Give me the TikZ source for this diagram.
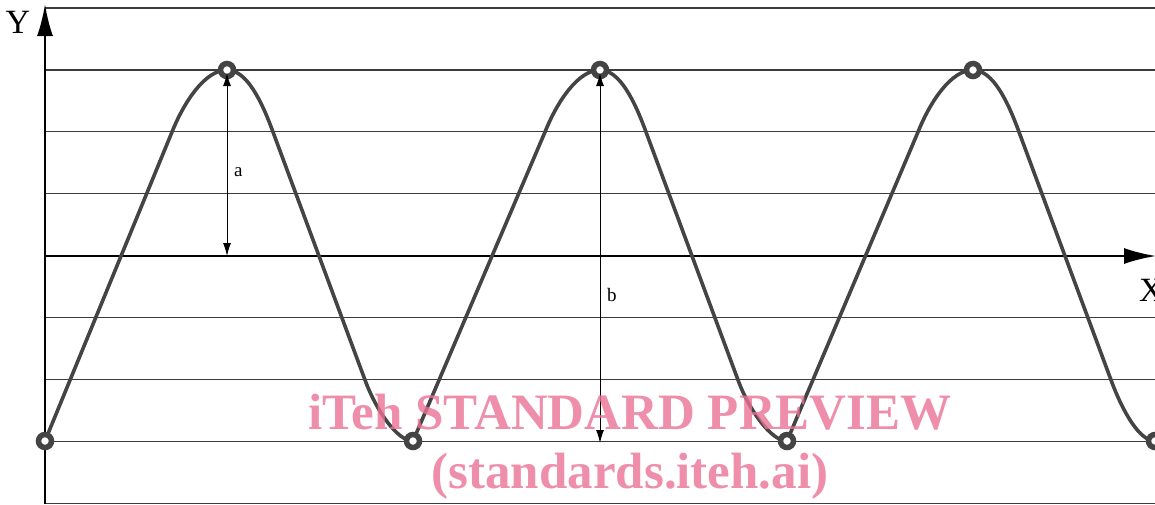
\documentclass[tikz,border=0pt]{standalone}
\usepackage{fontspec}
\setmainfont{Liberation Serif}
\usetikzlibrary{arrows.meta}
\definecolor{curvegray}{RGB}{68,68,68}
\definecolor{gridgray}{RGB}{60,60,60}
\definecolor{wmpink}{RGB}{234,114,149}
\tikzset{
  gridline/.style={draw=gridgray,line width=1.2pt},
  axisline/.style={draw=black,line width=2.4pt,-{Latex[length=32pt,width=16pt]}},
  curveline/.style={draw=curvegray,line width=3.6pt,line cap=round,line join=round},
  extremum/.style={circle,draw=curvegray,fill=white,line width=5.5pt,minimum size=13pt,inner sep=0pt},
  dimline/.style={draw=black,line width=1pt,{Latex[length=13pt,width=8pt]}-{Latex[length=13pt,width=8pt]}},
  dimlabel/.style={font=\fontsize{19}{19}\selectfont,anchor=west,inner sep=0pt},
  axislabel/.style={font=\fontsize{34}{34}\selectfont,inner sep=0pt},
  watermark/.style={font=\fontsize{51}{51}\selectfont\bfseries,text=wmpink,opacity=0.8,anchor=base,inner sep=0pt}
}
\begin{document}
\begin{tikzpicture}[x=1pt,y=-1pt]
\useasboundingbox (0,0) rectangle (1155,504);
% grid lines
\foreach \k in {0,1,2,3,5,6,7,8} {
  \draw[gridline] (45,{8+61.9*\k}) -- (1155,{8+61.9*\k});
}
% axes
\coordinate (o) at (45,504);
\coordinate (ytip) at (45,4);
\coordinate (xo) at (45,256);
\coordinate (xtip) at (1156,256);
\draw[axisline] (o) -- (ytip);
\draw[axisline] (xo) -- (xtip);
\node[axislabel] (ylab) at (18,22) {Y};
\node[axislabel,anchor=west] (xlab) at (1139,290) {X};
% curve: one period per peak (peak x / left trough offset / right trough offset)
\foreach \p/\l/\r in {227/-182/186, 600/-187/187, 973/-186/182} {
  \draw[curveline] ({\p+\l},441) -- ({\p-55},132)
    .. controls ({\p-43},102) and ({\p-22},70) .. (\p,70)
    .. controls ({\p+20},70) and ({\p+35},102) .. ({\p+46},132)
    -- ({\p+138},380)
    .. controls ({\p+149},410) and ({\p+\r-16},441) .. ({\p+\r},441);
}
% extrema
\node[extremum] (m0) at (45,441) {};
\node[extremum] (p1) at (227,70) {};
\node[extremum] (m1) at (413,441) {};
\node[extremum] (p2) at (600,70) {};
\node[extremum] (m2) at (787,441) {};
\node[extremum] (p3) at (973,70) {};
\node[extremum] (m3) at (1155,441) {};
% dimensions
\coordinate (atop) at (227,73);
\coordinate (abot) at (227,256);
\coordinate (btop) at (600,73);
\coordinate (bbot) at (600,443);
\draw[dimline] (atop) -- (abot);
\draw[dimline] (btop) -- (bbot);
\node[dimlabel] (alab) at (234,172) {a};
\node[dimlabel] (blab) at (607,295) {b};
% watermark
\node[watermark] (wm1) at (630,429) {iTeh STANDARD PREVIEW};
\node[watermark] (wm2) at (630,488) {(standards.iteh.ai)};
\end{tikzpicture}
\end{document}
